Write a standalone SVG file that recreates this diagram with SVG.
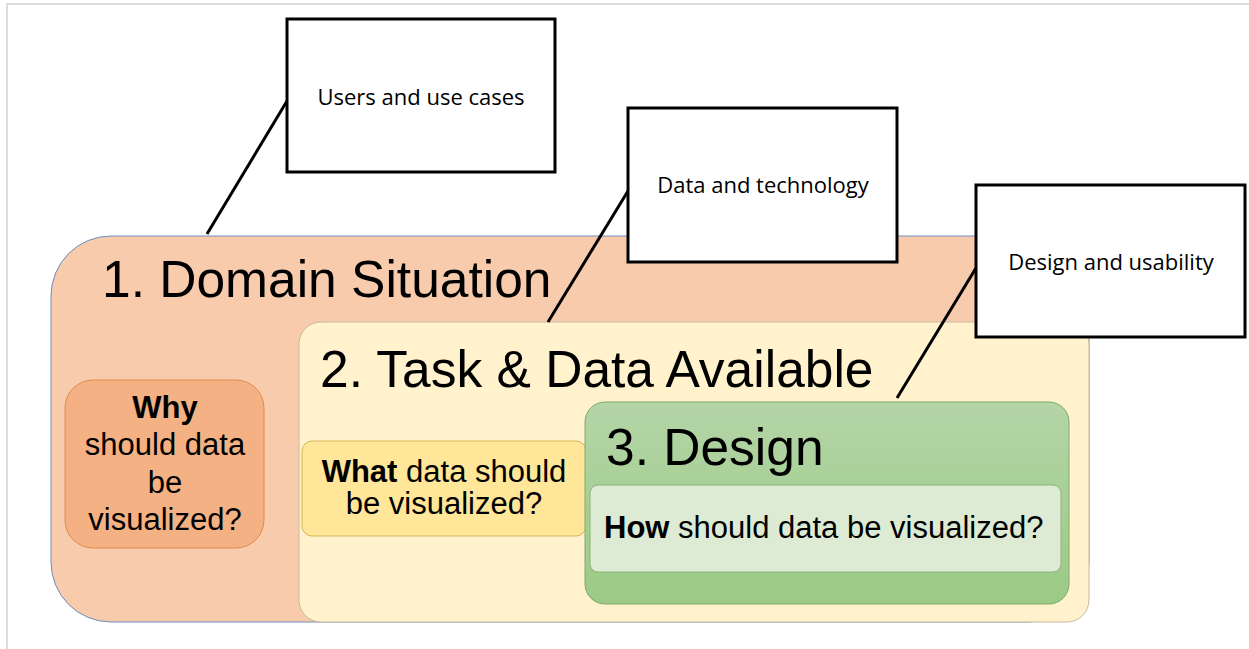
<svg xmlns="http://www.w3.org/2000/svg" width="1249" height="649" viewBox="0 0 1249 649">
<style>
.title{font-family:"Liberation Sans",Arial,sans-serif;font-size:51.5px;fill:#000}
.body{font-family:"Liberation Sans",Arial,sans-serif;font-size:31px;fill:#000}
.b{font-weight:bold}
.callout{fill:#fff;stroke:#000;stroke-width:3}
.ctext{font-family:"Open Sans","Noto Sans",sans-serif;font-size:22px;fill:#000;text-anchor:middle}
.conn{stroke:#000;stroke-width:3;fill:none}
</style>
<defs>
<linearGradient id="gg" x1="0" y1="0" x2="0" y2="1">
<stop offset="0" stop-color="#b4d5a7"/>
<stop offset="1" stop-color="#9cca85"/>
</linearGradient>
</defs>
<rect width="1249" height="649" fill="#fff"/>
<g id="frame" fill="none" stroke="#dcdcdc" stroke-width="2">
<path d="M7,649 V4 H1249"/>
</g>
<g id="domain">
<rect x="51" y="236" width="1038" height="386" rx="60" ry="60" fill="#f8cbad" stroke="#6c8ebf" stroke-width="1"/>
<text class="title" x="102" y="297">1. Domain Situation</text>
</g>
<g id="why">
<rect x="65" y="380" width="199" height="168" rx="28" ry="28" fill="#f4b183" stroke="#dd8a4c" stroke-width="1"/>
<text class="body" text-anchor="middle"><tspan x="165" y="418" class="b">Why</tspan><tspan x="165" y="455">should data</tspan><tspan x="165" y="493">be</tspan><tspan x="165" y="530">visualized?</tspan></text>
</g>
<g id="task">
<rect x="299" y="322" width="790" height="300" rx="22" ry="22" fill="#fff2cc" stroke="#c8b99c" stroke-width="1"/>
<text class="title" x="320" y="387">2. Task &amp; Data Available</text>
</g>
<g id="what">
<rect x="302" y="441" width="284" height="95" rx="10" ry="10" fill="#ffe699" stroke="#d6b656" stroke-width="1"/>
<text class="body" text-anchor="middle"><tspan x="444" y="482"><tspan class="b">What</tspan> data should</tspan><tspan x="444" y="514">be visualized?</tspan></text>
</g>
<g id="design">
<rect x="585" y="402" width="484" height="202" rx="20" ry="20" fill="url(#gg)" stroke="#82a86e" stroke-width="1"/>
<text class="title" x="606" y="465">3. Design</text>
</g>
<g id="how">
<rect x="590" y="485" width="471" height="87" rx="8" ry="8" fill="#ddebd4" stroke="#8db37a" stroke-width="1"/>
<text class="body" x="604" y="538"><tspan class="b">How</tspan> should data be visualized?</text>
</g>
<g id="connectors">
<line class="conn" x1="207" y1="234" x2="287" y2="101"/>
<line class="conn" x1="548" y1="322" x2="628" y2="191"/>
<line class="conn" x1="897" y1="398" x2="976" y2="268"/>
</g>
<g id="users">
<rect class="callout" x="287" y="19" width="268" height="153"/>
<text class="ctext" x="421" y="105">Users and use cases</text>
</g>
<g id="datatech">
<rect class="callout" x="628" y="108" width="269" height="154"/>
<text class="ctext" x="763" y="193">Data and technology</text>
</g>
<g id="designuse">
<rect class="callout" x="976" y="185" width="269" height="152"/>
<text class="ctext" x="1111" y="270">Design and usability</text>
</g>
</svg>
